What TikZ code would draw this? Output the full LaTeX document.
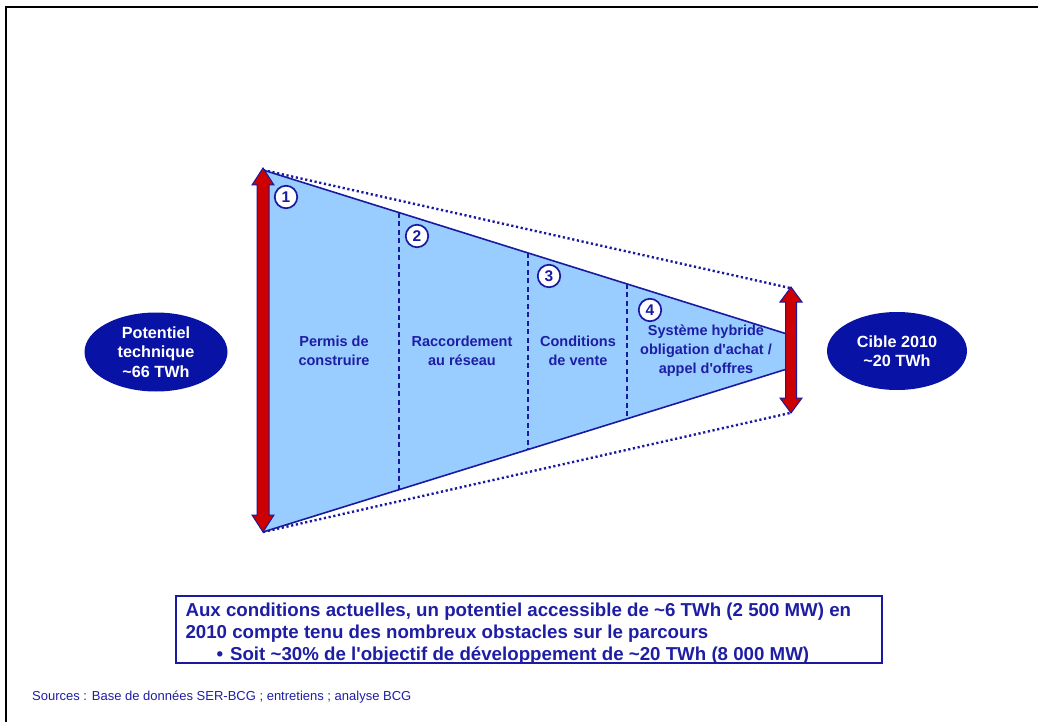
\documentclass[tikz,border=0pt]{standalone}
\usepackage{fontspec}
\setmainfont{Liberation Sans}[Ligatures=TeXOff]
\usetikzlibrary{calc,shapes.geometric}
\definecolor{lineblue}{RGB}{26,26,160}
\definecolor{textblue}{RGB}{30,30,165}
\definecolor{ellblue}{RGB}{8,18,165}
\definecolor{funnel}{RGB}{153,204,255}
\definecolor{arrowred}{RGB}{204,0,0}
\tikzset{
  dividerline/.style={draw=lineblue, line width=1.7pt, dash pattern=on 5pt off 3.5pt},
  dotline/.style={draw=lineblue, line width=2.4pt, dash pattern=on 2.2pt off 2.6pt},
  numcircle/.style={circle, draw=lineblue, line width=1.7pt, fill=white, minimum size=22.5pt, inner sep=0pt, text=lineblue, font=\fontsize{15.5}{15.5}\selectfont\bfseries},
  steplabel/.style={align=center, text=textblue, font=\fontsize{14.5}{19}\selectfont\bfseries},
  ellnode/.style={ellipse, fill=ellblue, minimum width=143pt, minimum height=79pt, inner sep=0pt, align=center, text=white, font=\fontsize{16.2}{19.5}\selectfont\bfseries},
  bigarrow/.style={fill=arrowred, draw=lineblue, line width=1pt, line join=miter},
}
\begin{document}
\begin{tikzpicture}[x=1pt,y=-1pt]
\useasboundingbox (0,0) rectangle (1038,722);
% frame
\draw[line width=2.2pt] (6,722) -- (6,7) -- (1038,7);

% funnel corners
\coordinate (LT) at (263,170);
\coordinate (LB) at (263,532);
\coordinate (RT) at (787,334);
\coordinate (RB) at (787,369);
\coordinate (DT) at (790,288);
\coordinate (DB) at (790,413);

% dotted envelope
\draw[dotline] (LT) -- (DT);
\draw[dotline] (LB) -- (DB);

% funnel
\fill[funnel] (LT) -- (RT) -- (RB) -- (LB) -- cycle;
\draw[lineblue, line width=1.6pt] (LT) -- (RT);
\draw[lineblue, line width=1.6pt] (LB) -- (RB);

% dividers
\foreach \t/\n in {0.2595/a,0.5057/b,0.6947/c}{
  \coordinate (T\n) at ($(LT)!\t!(RT)$);
  \coordinate (B\n) at ($(LB)!\t!(RB)$);
  \draw[dividerline] (T\n) -- (B\n);
}

% left double arrow
\draw[bigarrow] (263,168) -- (274,185) -- (269,185) -- (269,515) -- (274,515) -- (263,532) -- (252,515) -- (257,515) -- (257,185) -- (252,185) -- cycle;
% right double arrow
\draw[bigarrow] (791,287) -- (802,302) -- (796.5,302) -- (796.5,398) -- (802,398) -- (791,413) -- (780,398) -- (785.5,398) -- (785.5,302) -- (780,302) -- cycle;

% numbers
\node[numcircle] (n1) at (286,197) {1};
\node[numcircle] (n2) at (417,236) {2};
\node[numcircle] (n3) at (549,276) {3};
\node[numcircle] (n4) at (650,310) {4};

% step labels
\node[steplabel] (s1) at (334,351) {Permis de\\construire};
\node[steplabel] (s2) at (462,351) {Raccordement\\au réseau};
\node[steplabel] (s3) at (578,351) {Conditions\\de vente};
\node[steplabel] (s4) at (706,351) {Système hybride\\obligation d'achat /\\appel d'offres};

% ellipses
\node[ellnode] (pot) at (156,352) {Potentiel\\technique\\\textasciitilde66 TWh};
\node[ellnode, minimum width=140pt, minimum height=78pt] (cib) at (897,351) {Cible 2010\\\textasciitilde20 TWh};

% bottom box
\node[draw=lineblue, line width=1.3pt, minimum width=706pt, minimum height=67pt, inner sep=0pt] (box) at (529,629.5) {};
\node[anchor=north west, align=left, inner sep=0pt, text=textblue, font=\fontsize{18.7}{22}\selectfont\bfseries] (boxtext) at ($(box.north west)+(10,7)$)
 {Aux conditions actuelles, un potentiel accessible de \textasciitilde6 TWh (2 500 MW) en\\
  2010 compte tenu des nombreux obstacles sur le parcours\\
  \hspace{31pt}•\hspace{7pt}Soit \textasciitilde30\% de l'objectif de développement de \textasciitilde20 TWh (8 000 MW)};

% sources
\node[anchor=west, inner sep=0pt, text=textblue, font=\fontsize{13}{15}\selectfont] (src) at (32,697) {Sources : Base de données SER-BCG ; entretiens ; analyse BCG};
\end{tikzpicture}
\end{document}
